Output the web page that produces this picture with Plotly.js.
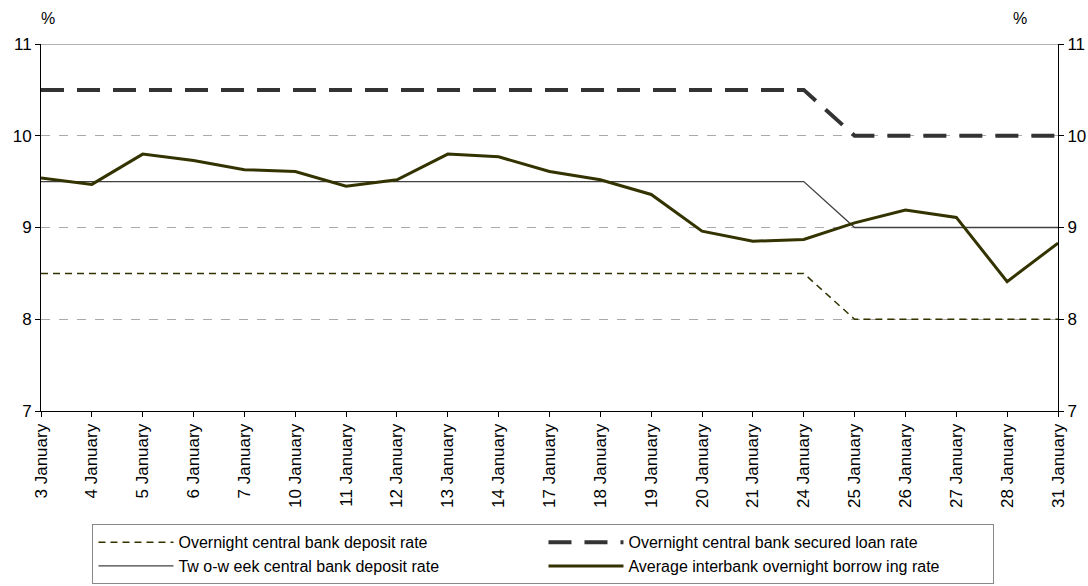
<!DOCTYPE html>
<html>
<head>
<meta charset="utf-8">
<script src="https://cdn.plot.ly/plotly-3.0.1.min.js"></script>
<style>html,body{margin:0;padding:0;background:#fff;}#chart{width:1088px;height:586px;}</style>
</head>
<body>
<div id="chart"></div>
<script>
const categories = ["3 January","4 January","5 January","6 January","7 January","10 January","11 January","12 January","13 January","14 January","17 January","18 January","19 January","20 January","21 January","24 January","25 January","26 January","27 January","28 January","31 January"];
const overnightDeposit = [8.5,8.5,8.5,8.5,8.5,8.5,8.5,8.5,8.5,8.5,8.5,8.5,8.5,8.5,8.5,8.5,8,8,8,8,8];
const securedLoan = [10.5,10.5,10.5,10.5,10.5,10.5,10.5,10.5,10.5,10.5,10.5,10.5,10.5,10.5,10.5,10.5,10,10,10,10,10];
const twoWeekDeposit = [9.5,9.5,9.5,9.5,9.5,9.5,9.5,9.5,9.5,9.5,9.5,9.5,9.5,9.5,9.5,9.5,9,9,9,9,9];
const interbank = [9.54,9.47,9.80,9.73,9.63,9.61,9.45,9.52,9.80,9.77,9.61,9.52,9.36,8.96,8.85,8.87,9.05,9.19,9.11,8.41,8.83];
const yTicks = [7,8,9,10,11];

const FAM = "Liberation Sans, Arial, sans-serif";
const traces = [
  {x:categories, y:overnightDeposit, name:"Overnight central bank deposit rate", type:"scatter", mode:"lines",
   line:{color:"#333300", width:1.5, dash:"7px,5px"}},
  {x:categories, y:securedLoan, name:"Overnight central bank secured loan rate", type:"scatter", mode:"lines",
   line:{color:"#333333", width:4, dash:"23px,13px"}},
  {x:categories, y:twoWeekDeposit, name:"Tw o-w eek central bank deposit rate", type:"scatter", mode:"lines",
   line:{color:"#404040", width:1.3}},
  {x:categories, y:interbank, name:"Average interbank overnight borrow ing rate", type:"scatter", mode:"lines",
   line:{color:"#333300", width:3}, yaxis:"y2"}
];
const layout = {
  width:1088, height:586,
  margin:{l:41, r:30, t:44, b:175},
  paper_bgcolor:"#fff", plot_bgcolor:"#fff",
  font:{family:FAM, size:16, color:"#000"},
  showlegend:true,
  xaxis:{type:"category", categoryorder:"array", categoryarray:categories, range:[0,20],
    showline:true, linecolor:"#000", linewidth:1, ticks:"outside", ticklen:5, tickcolor:"#000",
    tickangle:-90, showgrid:false, zeroline:false, tickfont:{family:FAM,size:17,color:"#000"}},
  yaxis:{range:[7,11], tickvals:yTicks, showline:true, linecolor:"#000", linewidth:1,
    ticks:"outside", ticklen:5, tickcolor:"#000", showgrid:true, gridcolor:"#aaaaaa", griddash:"dash",
    gridwidth:1, zeroline:false, tickfont:{family:FAM,size:17,color:"#000"}},
  yaxis2:{range:[7,11], tickvals:yTicks, overlaying:"y", side:"right", showline:true, linecolor:"#000", linewidth:1,
    ticks:"outside", ticklen:5, tickcolor:"#000", showgrid:false, zeroline:false,
    tickfont:{family:FAM,size:17,color:"#000"}},
  shapes:[{type:"line", xref:"paper", yref:"y", x0:0, x1:1, y0:11, y1:11, line:{color:"#999", width:1.5}}],
  annotations:[
    {text:"%", xref:"paper", yref:"paper", x:0.007, y:1, yshift:26, showarrow:false, xanchor:"center", yanchor:"middle", font:{family:FAM,size:16}},
    {text:"%", xref:"paper", yref:"paper", x:0.963, y:1, yshift:26, showarrow:false, xanchor:"center", yanchor:"middle", font:{family:FAM,size:16}}
  ],
  legend:{orientation:"h", xref:"container", x:0.085, xanchor:"left", yref:"container", y:0.003, yanchor:"bottom",
    entrywidth:360, entrywidthmode:"pixels", bordercolor:"#888", borderwidth:1, bgcolor:"#fff",
    font:{family:FAM,size:16,color:"#000"}, tracegroupgap:0, itemwidth:75}
};
Plotly.newPlot("chart", traces, layout, {staticPlot:true});
</script>
</body>
</html>
